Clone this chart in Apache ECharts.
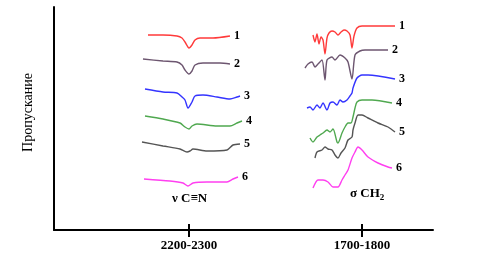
<!DOCTYPE html>
<html>
<head>
<meta charset="utf-8">
<script src="https://cdn.jsdelivr.net/npm/echarts@6/dist/echarts.min.js"></script>
<style>
    html, body { margin: 0; padding: 0; background: #fff; }
    #chart-container { width: 488px; height: 273px; }
</style>
</head>
<body>
<div id="chart-container"></div>
<script>
// схематичные спектры, условные единицы (x — положение, y — пропускание со сдвигом)
let tickPos = [135, 308];
let tickNames = ["2200-2300", "1700-1800"];
let curveNames = ["1", "2", "3", "4", "5", "6"];
let curveColors = ["#ff3a3a", "#6d5670", "#3434ff", "#4fa84f", "#555555", "#ff3ff0"];

// область ν C≡N
let cn1 = [[94, 195], [109, 195], [123, 194], [128, 192], [131, 188], [135, 182], [138, 185], [141, 190], [146, 192], [159, 192], [176, 194]];
let cn2 = [[89, 171], [109, 169], [123, 168], [128, 165], [131, 160], [135, 156], [138, 159], [141, 165], [149, 167], [166, 167], [176, 166]];
let cn3 = [[91, 141], [109, 138], [123, 137], [128, 133], [131, 130], [134, 122], [138, 128], [141, 134], [149, 135], [163, 133], [176, 131], [183, 133], [186, 134]];
let cn4 = [[91, 114], [109, 111], [126, 107], [131, 103], [135, 101], [138, 104], [143, 106], [163, 104], [176, 104], [183, 107], [188, 109]];
let cn5 = [[88, 88], [109, 84], [126, 81], [133, 78], [136, 79], [139, 81], [153, 79], [173, 80], [179, 85], [186, 86]];
let cn6 = [[90, 51], [116, 49], [129, 47], [134, 44], [139, 47], [153, 48], [173, 48], [179, 51], [184, 53]];

// область σ CH2
let ch1 = [[259, 195], [261, 188], [263, 196], [265, 186], [267, 193], [269, 190], [271, 176], [273, 192], [275, 197], [278, 199], [281, 198], [284, 195], [287, 198], [290, 200], [293, 199], [296, 195], [298, 182], [300, 194], [303, 202], [308, 204], [341, 204]];
let ch2 = [[251, 162], [254, 166], [258, 168], [261, 163], [264, 166], [268, 170], [271, 150], [273, 170], [278, 173], [281, 170], [286, 175], [291, 172], [294, 168], [298, 151], [301, 175], [306, 179], [311, 180], [334, 180]];
let ch3 = [[253, 122], [256, 123], [259, 120], [263, 125], [266, 122], [269, 127], [273, 120], [276, 127], [279, 128], [283, 125], [286, 130], [289, 128], [293, 130], [296, 134], [298, 137], [299, 142], [303, 152], [308, 155], [314, 155], [341, 151]];
let ch4 = [[256, 92], [259, 88], [263, 93], [266, 95], [269, 97], [273, 100], [276, 98], [279, 101], [283, 88], [284, 87], [288, 97], [291, 103], [294, 107], [297, 107], [299, 113], [301, 122], [303, 128], [308, 130], [318, 130], [338, 127]];
let ch5 = [[261, 72], [263, 78], [268, 80], [271, 83], [274, 81], [278, 80], [281, 75], [284, 72], [287, 77], [291, 82], [294, 90], [298, 93], [299, 100], [301, 107], [304, 115], [308, 115], [314, 112], [324, 107], [334, 103], [341, 98]];
let ch6 = [[259, 42], [264, 50], [269, 50], [274, 48], [279, 43], [284, 43], [288, 50], [291, 55], [294, 60], [298, 72], [301, 78], [304, 83], [308, 80], [314, 73], [324, 67], [334, 63], [338, 62]];

let groups = [[cn1, cn2, cn3, cn4, cn5, cn6], [ch1, ch2, ch3, ch4, ch5, ch6]];

let serif = "'Liberation Serif', 'DejaVu Serif', serif";

let dom = document.getElementById("chart-container");
let myChart = echarts.init(dom, null, { renderer: "canvas" });

let series = [];
groups.forEach(function (grp) {
    grp.forEach(function (pts, i) {
        series.push({
            type: "line",
            data: pts,
            showSymbol: false,
            smooth: 0.25,
            lineStyle: { color: curveColors[i], width: 1.4 },
            endLabel: {
                show: true,
                formatter: curveNames[i],
                distance: 4,
                color: "#000",
                fontFamily: serif,
                fontWeight: "bold",
                fontSize: 12,
            },
            silent: true,
        });
    });
});

let option = {
    animation: false,
    grid: { left: 54, right: 55, top: 7, bottom: 43 },
    xAxis: [{
        type: "value",
        min: 0,
        max: 379,
        splitLine: { show: false },
        axisLine: { lineStyle: { color: "#000", width: 2 } },
        axisTick: { customValues: tickPos, length: 7, lineStyle: { color: "#000", width: 2 } },
        axisLabel: {
            customValues: tickPos,
            margin: 9,
            formatter: function (v) { return tickNames[tickPos.indexOf(v)]; },
            color: "#000",
            fontFamily: serif,
            fontWeight: "bold",
            fontSize: 13,
        },
    }, {
        type: "value",
        position: "bottom",
        min: 0,
        max: 379,
        splitLine: { show: false },
        axisLine: { show: false },
        axisTick: { inside: true, customValues: tickPos, length: 6, lineStyle: { color: "#000", width: 2 } },
        axisLabel: { show: false },
    }],
    yAxis: {
        type: "value",
        min: 0,
        max: 223,
        name: "Пропускание",
        nameLocation: "middle",
        nameRotate: 90,
        nameGap: 19,
        nameTextStyle: { color: "#000", fontFamily: serif, fontSize: 14, padding: [0, 0, 0, 12] },
        splitLine: { show: false },
        axisTick: { show: false },
        axisLabel: { show: false },
        axisLine: { show: true, lineStyle: { color: "#000", width: 2 } },
    },
    graphic: [{
        type: "text",
        left: 172,
        top: 192,
        style: { text: "ν C≡N", font: "bold 13px " + serif, fill: "#000" },
    }, {
        type: "text",
        left: 350,
        top: 187,
        style: {
            text: "σ CH{s|2}",
            font: "bold 13px " + serif,
            fill: "#000",
            rich: { s: { fontSize: 9, fontWeight: "bold", fontFamily: serif, padding: [8, 0, 0, 0] } },
        },
    }],
    series: series,
};

myChart.setOption(option);

window.addEventListener("resize", myChart.resize);
</script>
</body>
</html>
